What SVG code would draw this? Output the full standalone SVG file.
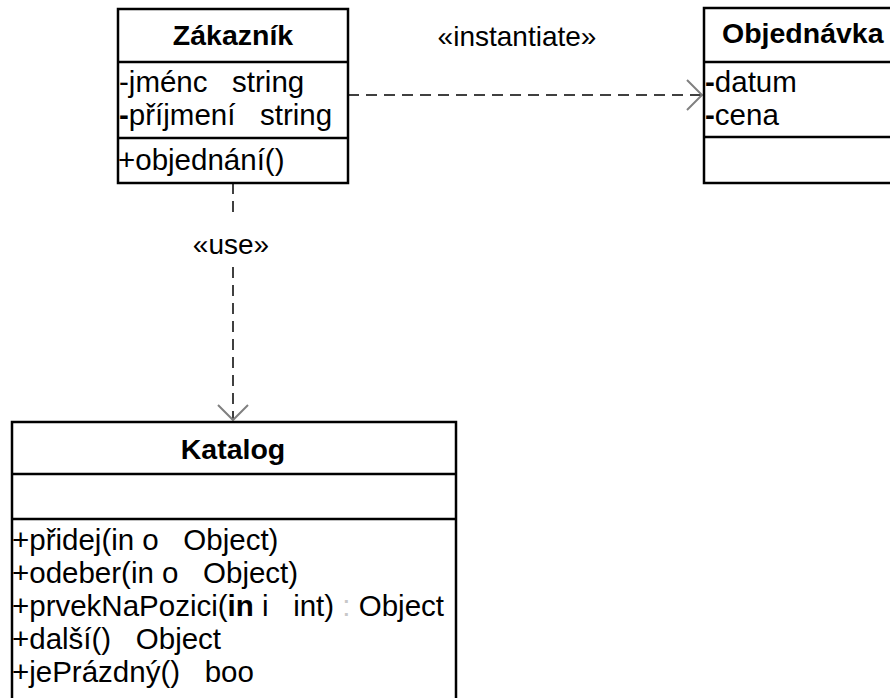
<svg xmlns="http://www.w3.org/2000/svg" width="890" height="698" viewBox="0 0 890 698">
  <style>
    text { font-family: "Liberation Sans", Arial, sans-serif; font-size: 29.5px; fill: #000; white-space: pre; }
    .title { font-weight: bold; font-size: 28.5px; }
    .lbl { font-size: 28px; }
    .mid { text-anchor: middle; }
    .box { fill: #fff; stroke: #000; stroke-width: 2.5; }
    .div { stroke: #000; stroke-width: 2.5; fill: none; }
    .dep { fill: none; stroke: #404040; stroke-width: 2; stroke-dasharray: 11 7; }
    .b { font-weight: bold; }
    .faint { fill: #c8c8c8; }
  </style>
  <defs>
    <marker id="open" markerUnits="userSpaceOnUse" markerWidth="40" markerHeight="40" refX="0" refY="0" viewBox="-20 -20 40 40" orient="auto" overflow="visible">
      <path d="M-15,-15 L0,0 L-15,15" fill="none" stroke="#808080" stroke-width="2" stroke-dasharray="none"/>
    </marker>
  </defs>
  <rect width="890" height="698" fill="#fff"/>

  <g id="connectors">
    <path class="dep" d="M348,95 L702,95" marker-end="url(#open)"/>
    <path class="dep" d="M233,183 L233,218"/>
    <path class="dep" d="M233,267 L233,420" marker-end="url(#open)"/>
    <text class="lbl mid" x="517" y="46">«instantiate»</text>
    <text class="lbl mid" x="231" y="254">«use»</text>
  </g>

  <g id="zakaznik">
    <rect class="box" x="118" y="9" width="230" height="174"/>
    <line class="div" x1="118" y1="62" x2="348" y2="62"/>
    <line class="div" x1="118" y1="138" x2="348" y2="138"/>
    <text class="title mid" x="233" y="45">Zákazník</text>
    <text x="119" y="92">-jménc   string</text>
    <text x="119" y="125"><tspan class="b">-</tspan>příjmení   string</text>
    <text x="118" y="170">+objednání()</text>
  </g>

  <g id="objednavka">
    <rect class="box" x="704" y="8" width="210" height="175"/>
    <line class="div" x1="704" y1="62" x2="900" y2="62"/>
    <line class="div" x1="704" y1="137" x2="900" y2="137"/>
    <text class="title" x="722" y="43">Objednávka</text>
    <text x="705" y="92"><tspan class="b">-</tspan>datum</text>
    <text x="705" y="125"><tspan class="b">-</tspan>cena</text>
  </g>

  <g id="katalog">
    <rect class="box" x="12" y="422" width="444" height="300"/>
    <line class="div" x1="12" y1="474" x2="456" y2="474"/>
    <line class="div" x1="12" y1="519" x2="456" y2="519"/>
    <text class="title mid" x="233" y="459">Katalog</text>
    <text x="12" y="550">+přidej(in o   Object)</text>
    <text x="12" y="583">+odeber(in o   Object)</text>
    <text x="12" y="616">+prvekNaPozici(<tspan class="b">in</tspan> i   int) <tspan class="faint">:</tspan> Object</text>
    <text x="12" y="649">+další()   Object</text>
    <text x="12" y="682">+jePrázdný()   boo</text>
  </g>
</svg>
